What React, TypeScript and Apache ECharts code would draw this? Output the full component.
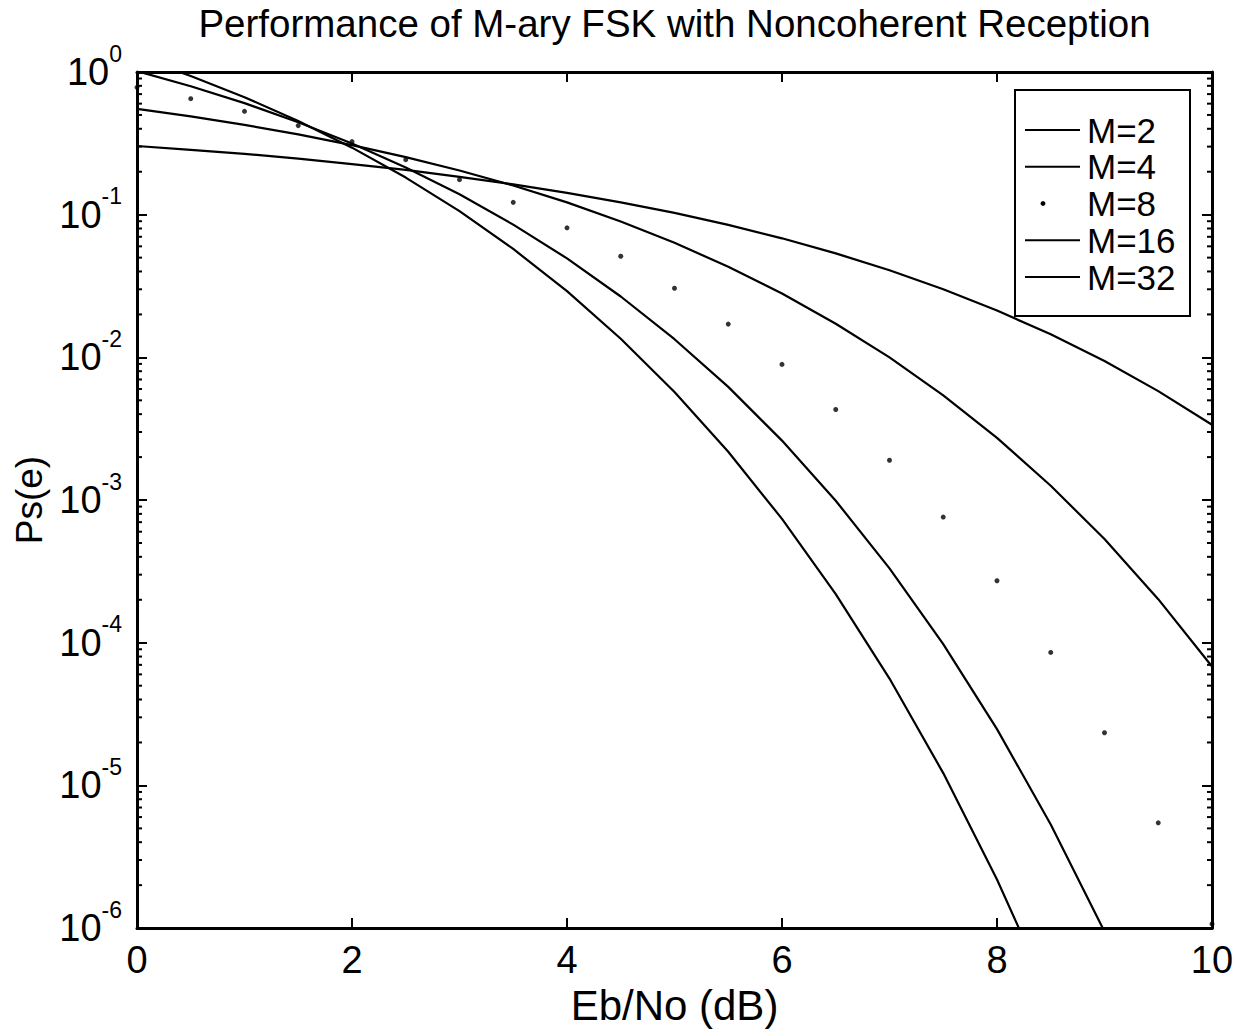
import React, { useEffect, useRef } from 'react';
import * as echarts from 'echarts';

// Eb/No in dB (x values of the plotted points)
const ebNo = [0, 0.5, 1, 1.5, 2, 2.5, 3, 3.5, 4, 4.5, 5, 5.5, 6, 6.5, 7, 7.5, 8, 8.5, 9, 9.5, 10];

// Symbol error probability for each M
const psM2 = [0.303, 0.285, 0.267, 0.247, 0.226, 0.206, 0.184, 0.163, 0.142, 0.122, 0.103, 0.0848, 0.0683, 0.0536, 0.0408, 0.03, 0.0213, 0.0145, 0.00942, 0.0058, 0.00337];
const psM4 = [0.552, 0.488, 0.426, 0.365, 0.307, 0.253, 0.204, 0.16, 0.122, 0.0896, 0.0635, 0.0432, 0.028, 0.0172, 0.00999, 0.00542, 0.00273, 0.00126, 0.000533, 0.000202, 0.0000681];
const psM8 = [0.781, 0.65, 0.53, 0.421, 0.325, 0.243, 0.176, 0.122, 0.0809, 0.0511, 0.0305, 0.0171, 0.00893, 0.00431, 0.0019, 0.00076, 0.000272, 0.0000855, 0.0000234, 0.00000547, 0.00000107];
const psM16 = [1.015, 0.795, 0.605, 0.445, 0.315, 0.214, 0.139, 0.0852, 0.0494, 0.0267, 0.0134, 0.00621, 0.00261, 0.000989, 0.000332, 0.0000979, 0.0000248, 0.00000532, 0.000000945, 0.000000136, 0.0000000155];
const psM32 = [1.272, 0.938, 0.666, 0.454, 0.295, 0.182, 0.106, 0.0575, 0.0291, 0.0135, 0.00571, 0.00218, 0.000738, 0.000219, 0.0000561, 0.0000122, 0.00000219, 0.000000319, 0.0000000368, 0.00000000326, 0.000000000215];

const seriesNames = ['M=2', 'M=4', 'M=8', 'M=16', 'M=32'];
const titleText = 'Performance of M-ary FSK with Noncoherent Reception';
const xName = 'Eb/No (dB)';
const yName = 'Ps(e)';

// y axis range (decades) and minor tick multipliers
const yMin = 1e-6;
const yMax = 1;
const minorMultipliers = [2, 3, 4, 5, 6, 7, 8, 9];
const minorExponents = [-6, -5, -4, -3, -2, -1];

const FONT = "'Liberation Sans', Arial, Helvetica, sans-serif";

export default function App() {
  const ref = useRef<HTMLDivElement>(null);

  useEffect(() => {
    if (!ref.current) return;
    const chart = echarts.init(ref.current, undefined, { renderer: 'svg' });

    const minorTicks: number[][] = [];
    minorExponents.forEach((e) => {
      minorMultipliers.forEach((m) => minorTicks.push([0, m * Math.pow(10, e)]));
    });

    const pair = (arr: number[]) => ebNo.map((x, i) => [x, arr[i]]);

    const axisLineStyle = { show: true, onZero: false, lineStyle: { color: '#000', width: 3 } };
    const tickStyle = { show: true, inside: true, length: 10, lineStyle: { color: '#000', width: 2 } };

    const lineSeries = (name: string, arr: number[]) => ({
      name,
      type: 'line',
      data: pair(arr),
      symbol: 'none',
      showSymbol: false,
      clip: true,
      lineStyle: { color: '#000', width: 2.2 },
      itemStyle: { color: '#000' },
      z: 3,
    });

    // legend geometry
    const lgX = 1015, lgY = 90, lgW = 175, lgH = 226;
    const rowY0 = 130, rowStep = 36.75;
    const legendChildren: any[] = [
      {
        type: 'rect',
        shape: { x: lgX, y: lgY, width: lgW, height: lgH },
        style: { fill: '#fff', stroke: '#000', lineWidth: 2 },
      },
    ];
    seriesNames.forEach((n, i) => {
      const y = rowY0 + i * rowStep;
      if (n === 'M=8') {
        legendChildren.push({ type: 'circle', shape: { cx: 1043, cy: y, r: 2.4 }, style: { fill: '#000' } });
      } else {
        legendChildren.push({
          type: 'line',
          shape: { x1: 1025, y1: y, x2: 1080, y2: y },
          style: { stroke: '#000', lineWidth: 2 },
        });
      }
      legendChildren.push({
        type: 'text',
        x: 1087,
        y: y,
        style: {
          text: n,
          fill: '#000',
          fontSize: 35,
          lineHeight: 32,
          fontFamily: FONT,
          align: 'left',
          verticalAlign: 'middle',
          textAlign: 'left',
          textVerticalAlign: 'middle',
        },
      });
    });

    const option: any = {
      animation: false,
      backgroundColor: '#fff',
      title: {
        text: titleText,
        left: 674.5,
        top: 4,
        textAlign: 'center',
        padding: 0,
        textStyle: { fontFamily: FONT, fontSize: 38.5, fontWeight: 'normal', color: '#000' },
      },
      grid: { left: 137, top: 72, right: 25, bottom: 101, containLabel: false },
      xAxis: [
        {
          type: 'value',
          min: 0,
          max: 10,
          interval: 2,
          position: 'bottom',
          name: xName,
          nameLocation: 'middle',
          nameGap: 50,
          nameTextStyle: { fontFamily: FONT, fontSize: 42, color: '#000' },
          axisLine: axisLineStyle,
          axisTick: tickStyle,
          axisLabel: { margin: 13, fontFamily: FONT, fontSize: 38, color: '#000' },
          splitLine: { show: false },
        },
        {
          type: 'value',
          min: 0,
          max: 10,
          interval: 2,
          position: 'top',
          axisLine: axisLineStyle,
          axisTick: tickStyle,
          axisLabel: { show: false },
          splitLine: { show: false },
        },
      ],
      yAxis: [
        {
          type: 'log',
          logBase: 10,
          min: yMin,
          max: yMax,
          splitNumber: 6,
          position: 'left',
          name: yName,
          nameLocation: 'middle',
          nameGap: 86,
          nameRotate: 90,
          nameTextStyle: { fontFamily: FONT, fontSize: 37, color: '#000' },
          axisLine: axisLineStyle,
          axisTick: tickStyle,
          axisLabel: {
            margin: 15,
            color: '#000',
            formatter: (v: number) => `{b|10}{s|${Math.round(Math.log10(v))}}`,
            rich: {
              b: { fontFamily: FONT, fontSize: 38, lineHeight: 60, color: '#000', verticalAlign: 'middle' },
              s: { fontFamily: FONT, fontSize: 23, lineHeight: 26, color: '#000', verticalAlign: 'top' },
            },
          },
          splitLine: { show: false },
          minorTick: { show: false },
        },
        {
          type: 'log',
          logBase: 10,
          min: yMin,
          max: yMax,
          splitNumber: 6,
          position: 'right',
          axisLine: axisLineStyle,
          axisTick: tickStyle,
          axisLabel: { show: false },
          splitLine: { show: false },
        },
      ],
      series: [
        lineSeries(seriesNames[0], psM2),
        lineSeries(seriesNames[1], psM4),
        {
          name: seriesNames[2],
          type: 'scatter',
          data: pair(psM8),
          symbol: 'circle',
          symbolSize: 5,
          itemStyle: { color: '#000' },
          clip: true,
          z: 3,
        },
        lineSeries(seriesNames[3], psM16),
        lineSeries(seriesNames[4], psM32),
        {
          name: 'minorTicks',
          type: 'custom',
          silent: true,
          data: minorTicks,
          encode: { x: 0, y: 1 },
          z: 4,
          renderItem: (params: any, api: any) => {
            const y = api.coord([0, api.value(1)])[1];
            const cs = params.coordSys;
            const st = { stroke: '#000', lineWidth: 2 };
            return {
              type: 'group',
              children: [
                { type: 'line', shape: { x1: cs.x, y1: y, x2: cs.x + 5, y2: y }, style: st },
                { type: 'line', shape: { x1: cs.x + cs.width - 5, y1: y, x2: cs.x + cs.width, y2: y }, style: st },
              ],
            };
          },
        },
      ],
      graphic: [{ type: 'group', z: 100, children: legendChildren }],
    };

    chart.setOption(option);
    return () => chart.dispose();
  }, []);

  return (
    <div
      ref={ref}
      style={{ position: 'absolute', left: 0, top: 0, width: 1237, height: 1031, background: '#fff' }}
    />
  );
}
